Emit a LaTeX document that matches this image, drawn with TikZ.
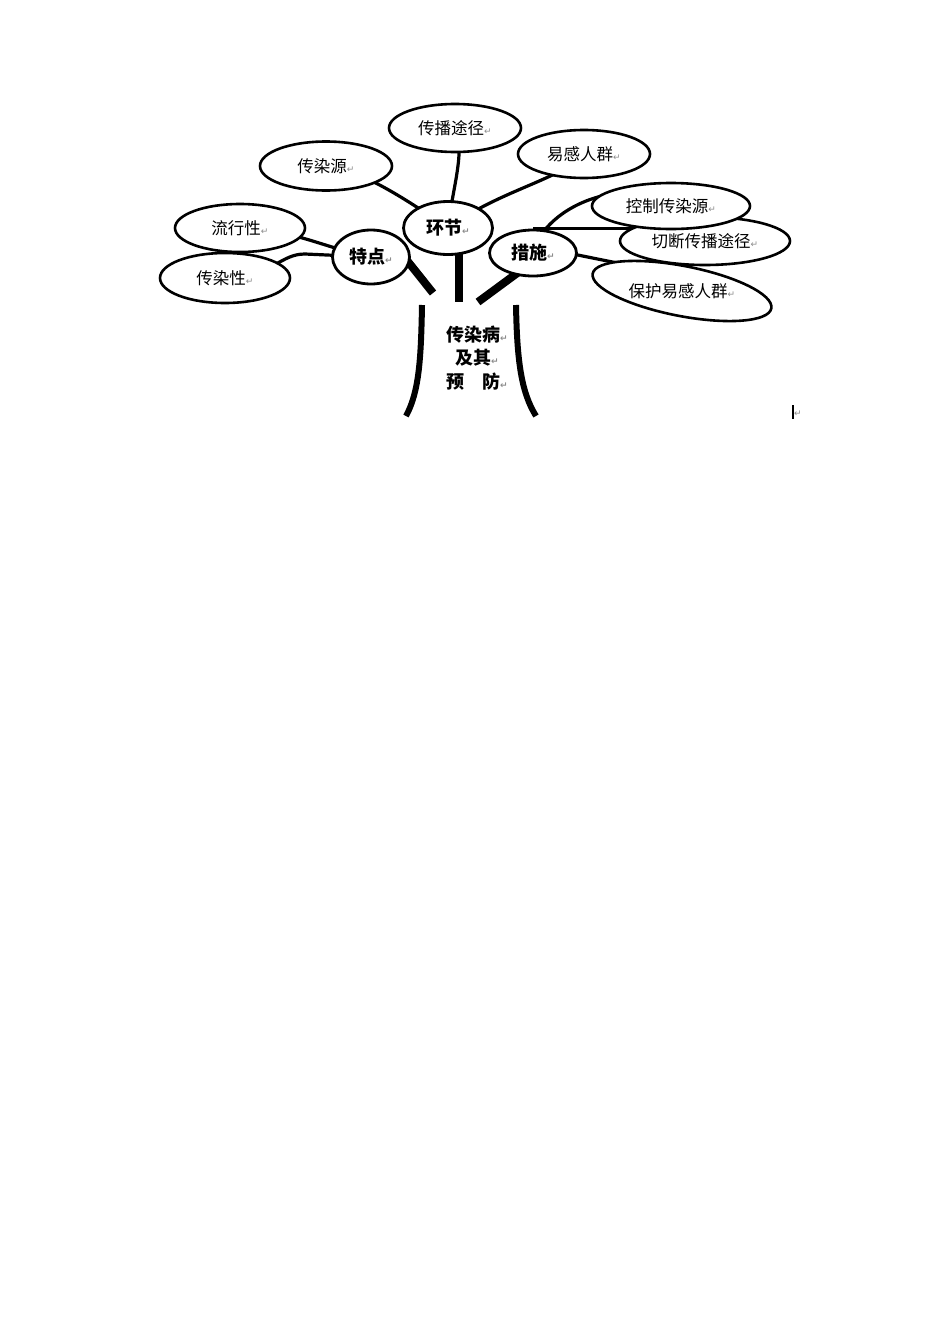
\documentclass[tikz,border=0pt]{standalone}
\usepackage{fontspec}
\setmainfont{Noto Sans CJK SC}
\newfontfamily\dejavu{DejaVu Sans}
\usetikzlibrary{shapes.geometric,backgrounds,calc}
\newcommand\retmark{{\dejavu\fontsize{9}{9}\selectfont\color{black!45}↵}}
\tikzset{
  leaf/.style={ellipse, draw, line width=2.6pt, fill=white, inner sep=0pt,
               font=\fontsize{16.5}{18}\selectfont},
  hub/.style={ellipse, draw, line width=2.8pt, fill=white, inner sep=0pt,
              font=\bfseries\fontsize{18}{20}\selectfont},
  twig/.style={line width=3.2pt},
  bough/.style={line width=8pt},
  trunkline/.style={line width=6pt},
}
\begin{document}
\begin{tikzpicture}[x=1pt,y=-1pt]
\useasboundingbox (0,0) rectangle (950,1344);

\node[leaf, minimum width=132, minimum height=48] (jing) at (455,128) {传播途径\retmark};
\node[leaf, minimum width=132, minimum height=49] (yuan) at (326,166) {传染源\retmark};
\node[leaf, minimum width=130, minimum height=48] (liu)  at (240,228) {流行性\retmark};
\node[leaf, minimum width=130, minimum height=50] (xing) at (225,278) {传染性\retmark};
\node[hub,  minimum width=77,  minimum height=54] (te)   at (371,257) {特点\retmark};
\node[hub,  minimum width=89,  minimum height=53] (huan) at (448,228) {环节\retmark};
\node[leaf, minimum width=132, minimum height=48] (yi)   at (584,154) {易感人群\retmark};
\node[hub,  minimum width=87,  minimum height=46] (cuo)  at (533,253) {措施\retmark};
\node[leaf, minimum width=182, minimum height=50, rotate=-11] (bao) at (682,291) {};
\node[font=\fontsize{16.5}{18}\selectfont, inner sep=0pt] (baotxt) at (bao.center) {保护易感人群\retmark};
\node[leaf, minimum width=170, minimum height=48] (qie)  at (705,241) {切断传播途径\retmark};
\node[leaf, minimum width=158, minimum height=46] (kong) at (671,206) {控制传染源\retmark};

\coordinate (tL) at (433,293);
\coordinate (tM) at (459,302);
\coordinate (tR) at (478,302);

\begin{pgfonlayer}{background}
  \fill[white] (0,0) rectangle (950,1344);
  % twigs
  \draw[twig] (jing.center) .. controls (466,150) and (452,190) .. (huan.center);
  \draw[twig] (yuan.center) .. controls (360,170) and (400,195) .. (huan.center);
  \draw[twig] (yi.center) .. controls (560,180) and (500,190) .. (huan.center);
  \draw[twig] (liu.center) .. controls (290,228) and (330,250) .. (te.center);
  \draw[twig] (xing.center) .. controls (275,275) and (280,254) .. (305,254) -- (te.center);
  \draw[twig] (cuo.center) .. controls (536,235) and (560,205) .. (606,195) -- (kong.center);
  \draw[twig] (cuo.north) -- (cuo.north -| qie.center);
  \draw[twig] ([yshift=7]cuo.center) -- ([yshift=15]bao.center);
  % boughs
  \draw[bough] ($(te.-10)!-0.3!(tL)$) -- (tL);
  \draw[bough] (huan.center -| tM) -- (tM);
  \draw[bough] ($(cuo.-130)!-0.3!(tR)$) -- (tR);
\end{pgfonlayer}

% trunk
\draw[trunkline] (422,305) .. controls (421,360) and (419,392) .. (406,416);
\draw[trunkline] (516,305) .. controls (517,360) and (521,392) .. (536,416);

\node[font=\bfseries\fontsize{18}{23.5}\selectfont, align=center, inner sep=0pt] (title) at (477,358)
  {传染病\retmark\\及其\retmark\\预\hspace{1em}防\retmark};

% cursor mark
\draw[line width=2pt] (793,405) -- (793,419);
\node[anchor=west, inner sep=0pt] (cur) at (794,414) {\retmark};
\end{tikzpicture}
\end{document}
